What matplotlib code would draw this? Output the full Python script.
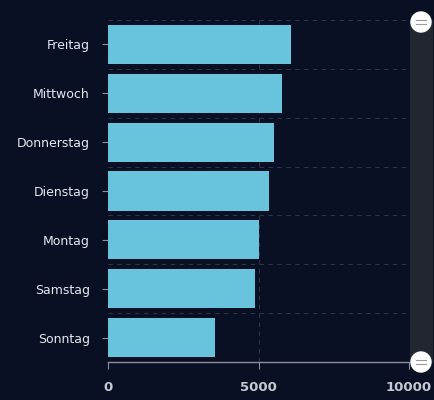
import matplotlib.pyplot as plt
from matplotlib.patches import Rectangle, Circle

tage = ['Freitag', 'Mittwoch', 'Donnerstag', 'Dienstag', 'Montag', 'Samstag', 'Sonntag']
werte = [6090, 5770, 5530, 5360, 5000, 4900, 3540]
x_ticks = [0, 5000, 10000]

bg = '#0a1024'
balken = '#68c4dc'
text = '#e6e8ee'

fig = plt.figure(figsize=(4.34, 4.0), dpi=100, facecolor=bg)
ax = fig.add_axes([108 / 434, 1 - 362 / 400, 301 / 434, 342 / 400], facecolor=bg)

pos = list(range(len(tage)))
ax.barh(pos, werte, height=0.8, color=balken, zorder=3)
ax.set_ylim(len(tage) - 0.5, -0.5)
ax.set_xlim(0, 10000)
ax.set_yticks(pos)
ax.set_yticklabels(tage)
ax.set_xticks(x_ticks)

# gestrichelte Trennlinien zwischen den Kategorien
for b in range(len(tage) + 1):
    ax.axhline(b - 0.5, color='#2c3448', lw=0.8, ls=(0, (4, 4)), zorder=1)
for t in x_ticks[1:]:
    ax.axvline(t, color='#2c3448', lw=0.8, ls=(0, (4, 4)), zorder=1)

for s in ['top', 'right', 'left']:
    ax.spines[s].set_visible(False)
ax.spines['bottom'].set_color('#8a8f9c')
ax.spines['bottom'].set_linewidth(1.0)

ax.tick_params(axis='y', colors='#8a8f9c', length=4, width=0.8, pad=9, labelsize=9, labelcolor=text)
ax.tick_params(axis='x', colors='#8a8f9c', length=5, width=0.8, pad=9, labelsize=9.5, labelcolor=text)
for lbl in ax.get_xticklabels():
    lbl.set_fontweight('bold')
    lbl.set_color('#c4c8d0')

# Scrollleiste rechts
fig.patches.append(Rectangle((410 / 434, 1 - 362 / 400), 22 / 434, 342 / 400,
                             transform=fig.transFigure, color='#22262f', zorder=0))
for yp in [22, 362]:
    cx, cy = 421, 400 - yp
    fig.patches.append(Circle((cx, cy), 10, transform=None, color='white', zorder=5))
    for dy in [-2, 2]:
        fig.add_artist(plt.Line2D([(cx - 5) / 434, (cx + 5) / 434], [(cy + dy) / 400, (cy + dy) / 400],
                                  transform=fig.transFigure, color='#9a9a9a', lw=0.8, zorder=6))

fig.savefig('out.png', dpi=100, facecolor=bg)
